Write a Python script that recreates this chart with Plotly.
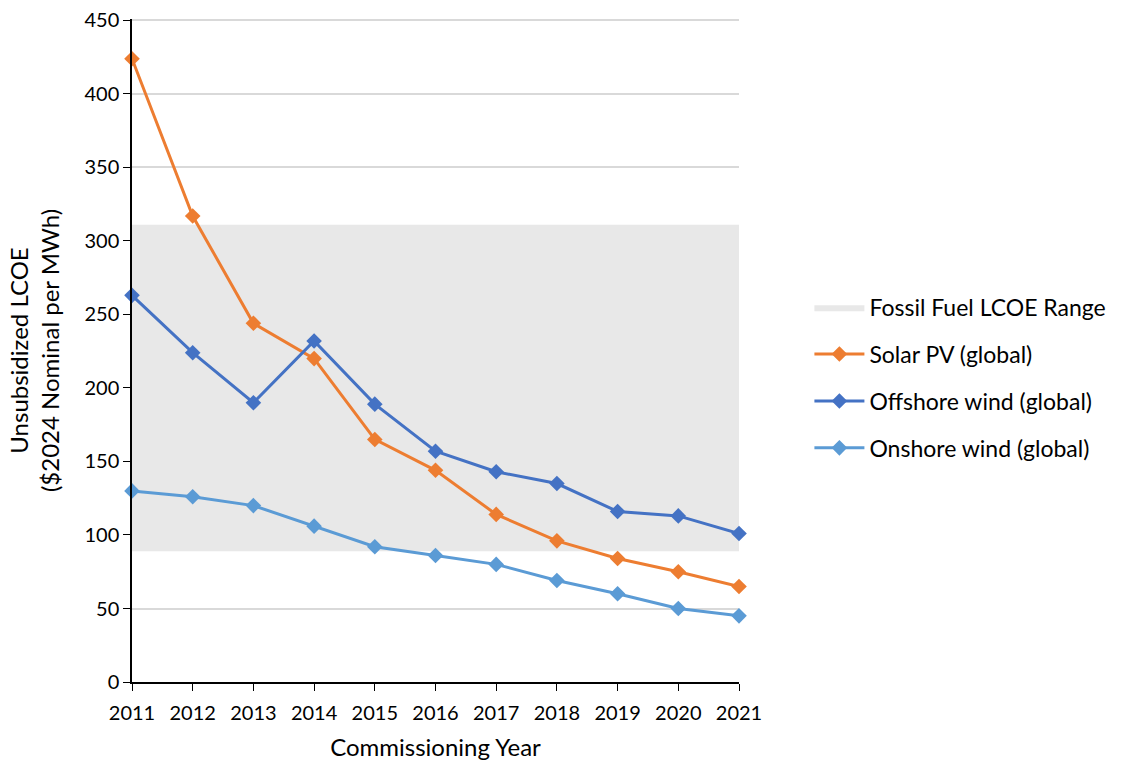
import plotly.graph_objects as go

years = [2011, 2012, 2013, 2014, 2015, 2016, 2017, 2018, 2019, 2020, 2021]
solar_pv = [424, 317, 244, 220, 165, 144, 114, 96, 84, 75, 65]
offshore_wind = [263, 224, 190, 232, 189, 157, 143, 135, 116, 113, 101]
onshore_wind = [130, 126, 120, 106, 92, 86, 80, 69, 60, 50, 45]
y_ticks = [0, 50, 100, 150, 200, 250, 300, 350, 400, 450]
fossil_low = 89
fossil_high = 311

fig = go.Figure()

# Fossil fuel band drawn as a filled polygon so it shows up in the legend
fig.add_trace(go.Scatter(
    x=[years[0], years[-1], years[-1], years[0], years[0]],
    y=[fossil_low, fossil_low, fossil_high, fossil_high, fossil_low],
    fill='toself',
    fillcolor='#E8E8E8',
    line=dict(width=0, color='#E8E8E8'),
    mode='lines',
    name='Fossil Fuel LCOE Range',
    legendgroup='band',
    hoverinfo='skip'
))

series = [
    ('Solar PV (global)', solar_pv, '#ED7D31'),
    ('Offshore wind (global)', offshore_wind, '#4472C4'),
    ('Onshore wind (global)', onshore_wind, '#5B9BD5'),
]
for name, vals, color in series:
    fig.add_trace(go.Scatter(
        x=years,
        y=vals,
        mode='lines+markers',
        name=name,
        legendgroup=name,
        line=dict(color=color, width=3),
        marker=dict(symbol='diamond', size=12, color=color),
        cliponaxis=False
    ))

fig.update_layout(
    width=1123,
    height=761,
    margin=dict(l=132, r=384, t=19, b=79, autoexpand=False),
    plot_bgcolor='white',
    paper_bgcolor='white',
    font=dict(family='Lato, Open Sans, sans-serif', size=20, color='black'),
    legend=dict(
        x=1.116, xanchor='left',
        y=0.459, yanchor='middle',
        font=dict(size=23),
        tracegroupgap=14,
        itemwidth=50
    ),
    xaxis=dict(
        range=[2011, 2021],
        tickvals=years,
        ticks='outside',
        ticklen=7,
        tickcolor='black',
        ticklabelstandoff=5,
        showline=True,
        linecolor='black',
        linewidth=1.5,
        showgrid=False,
        zeroline=False,
        automargin=False,
        title=dict(text='Commissioning Year', standoff=16)
    ),
    yaxis=dict(
        range=[0, 451],
        tickvals=y_ticks,
        ticks='outside',
        ticklen=7,
        tickcolor='black',
        showline=True,
        linecolor='black',
        linewidth=1.5,
        showgrid=True,
        gridcolor='#D9D9D9',
        gridwidth=1.5,
        zeroline=False,
        automargin=False,
        title=dict(text='Unsubsidized LCOE<br>($2024 Nominal per MWh)', standoff=18)
    )
)

# drop the default body margin so the figure sits at the top-left corner of the page
fig.write_html(
    "out.html",
    config={'displayModeBar': False},
    post_script="document.body.style.margin='0';"
)
